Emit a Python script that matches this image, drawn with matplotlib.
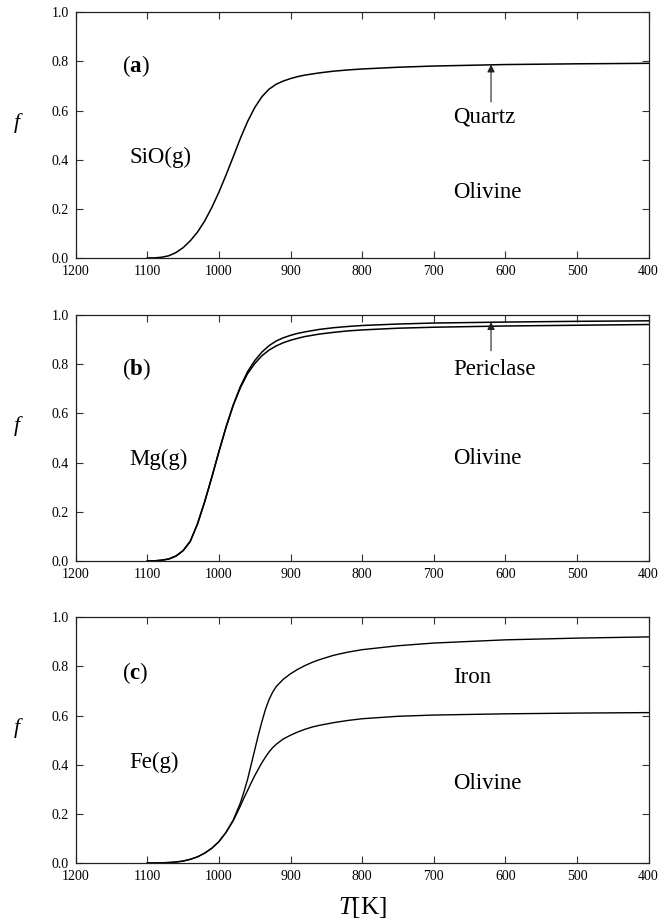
import matplotlib.pyplot as plt

# temperatures [K] and condensed fractions
t_sio = [1100, 1090, 1080, 1070, 1060, 1050, 1040, 1030, 1020, 1010, 1000, 990,
         980, 970, 960, 950, 940, 930, 920, 910, 900, 890, 880, 860, 840, 820,
         800, 750, 700, 650, 600, 500, 400]
f_sio = [0.0, 0.0005, 0.003, 0.009, 0.022, 0.042, 0.07, 0.105, 0.15, 0.205, 0.268,
         0.338, 0.412, 0.487, 0.555, 0.612, 0.656, 0.687, 0.707, 0.72, 0.73, 0.738,
         0.744, 0.753, 0.76, 0.765, 0.769, 0.776, 0.781, 0.784, 0.787, 0.79, 0.792]

t_mg = [1100, 1090, 1080, 1070, 1060, 1050, 1040, 1030, 1020, 1010, 1000, 990,
        980, 970, 960, 950, 940, 930, 920, 910, 900, 890, 880, 860, 840, 820,
        800, 750, 700, 600, 500, 400]
f_mg_total = [0.0, 0.0005, 0.003, 0.008, 0.02, 0.042, 0.08, 0.15, 0.24, 0.34, 0.445,
              0.545, 0.635, 0.71, 0.77, 0.815, 0.85, 0.876, 0.895, 0.908, 0.918,
              0.926, 0.932, 0.942, 0.949, 0.954, 0.958, 0.964, 0.968, 0.972, 0.975,
              0.977]
f_mg_olivine = [0.0, 0.0005, 0.003, 0.008, 0.02, 0.042, 0.08, 0.15, 0.24, 0.34,
                0.445, 0.545, 0.633, 0.705, 0.762, 0.803, 0.835, 0.858, 0.875, 0.888,
                0.898, 0.906, 0.913, 0.923, 0.93, 0.936, 0.94, 0.947, 0.951, 0.956,
                0.959, 0.962]

t_fe = [1100, 1090, 1080, 1070, 1060, 1050, 1040, 1030, 1020, 1010, 1000, 990,
        980, 970, 965, 960, 955, 950, 945, 940, 935, 930, 925, 920, 910, 900, 890,
        880, 870, 860, 840, 820, 800, 750, 700, 600, 500, 400]
f_fe_total = [0.0, 0.0003, 0.001, 0.002, 0.004, 0.008, 0.015, 0.025, 0.04, 0.06,
              0.087, 0.125, 0.175, 0.245, 0.29, 0.34, 0.40, 0.46, 0.52, 0.575, 0.625,
              0.665, 0.695, 0.718, 0.748, 0.77, 0.788, 0.803, 0.816, 0.827, 0.845,
              0.858, 0.868, 0.884, 0.895, 0.908, 0.915, 0.92]
f_fe_olivine = [0.0, 0.0003, 0.001, 0.002, 0.004, 0.008, 0.015, 0.025, 0.04, 0.06,
                0.087, 0.125, 0.172, 0.232, 0.265, 0.295, 0.326, 0.355, 0.382, 0.408,
                0.431, 0.452, 0.469, 0.483, 0.505, 0.52, 0.533, 0.544, 0.553, 0.56,
                0.571, 0.58, 0.587, 0.597, 0.602, 0.607, 0.61, 0.612]

x_ticks = [1200, 1100, 1000, 900, 800, 700, 600, 500, 400]
y_ticks = [0.0, 0.2, 0.4, 0.6, 0.8, 1.0]

plt.rcParams['font.family'] = 'Liberation Serif'
plt.rcParams['mathtext.fontset'] = 'custom'
plt.rcParams['mathtext.rm'] = 'Liberation Serif'
plt.rcParams['mathtext.it'] = 'Liberation Serif:italic'
plt.rcParams['mathtext.bf'] = 'Liberation Serif:bold'

fig = plt.figure(figsize=(6.7, 9.24), dpi=100)
# panel boxes (left, bottom, width, height) in figure fractions
ax_a = fig.add_axes([0.113, 0.7208, 0.855, 0.266])
ax_b = fig.add_axes([0.113, 0.3929, 0.855, 0.266])
ax_c = fig.add_axes([0.113, 0.066, 0.855, 0.266])

label_size = 16.5

for ax in (ax_a, ax_b, ax_c):
    ax.set_xlim(1200, 400)
    ax.set_ylim(0, 1)
    ax.set_xticks(x_ticks)
    ax.set_yticks(y_ticks)
    ax.set_yticklabels([f"{v:.1f}" for v in y_ticks])
    ax.tick_params(direction='in', top=True, right=True, length=5, width=0.8,
                   labelsize=10, color='#333333', pad=5)
    for s in ax.spines.values():
        s.set_linewidth(0.9)
        s.set_color('#222222')
    ax.set_ylabel(r'$f$', fontsize=16, rotation=0)
    ax.yaxis.set_label_coords(-0.1, 0.5)

# (a) SiO
ax_a.plot(t_sio, f_sio, color='black', lw=1.1)
ax_a.text(1136, 0.78, r'($\mathbf{a}$)', fontsize=label_size, va='center')
ax_a.text(1125, 0.41, 'SiO(g)', fontsize=label_size, va='center')
ax_a.text(673, 0.575, 'Quartz', fontsize=label_size, va='center')
ax_a.text(673, 0.265, 'Olivine', fontsize=label_size, va='center')
ax_a.annotate('', xy=(620, 0.787), xytext=(620, 0.635),
              arrowprops=dict(arrowstyle='-|>', color='#222222', lw=0.8,
                              mutation_scale=11, shrinkA=0, shrinkB=0))

# (b) Mg
ax_b.plot(t_mg, f_mg_total, color='black', lw=1.1)
ax_b.plot(t_mg, f_mg_olivine, color='black', lw=1.1)
ax_b.text(1136, 0.78, r'($\mathbf{b}$)', fontsize=label_size, va='center')
ax_b.text(1125, 0.415, 'Mg(g)', fontsize=label_size, va='center')
ax_b.text(673, 0.78, 'Periclase', fontsize=label_size, va='center')
ax_b.text(673, 0.415, 'Olivine', fontsize=label_size, va='center')
ax_b.annotate('', xy=(620, 0.972), xytext=(620, 0.855),
              arrowprops=dict(arrowstyle='-|>', color='#222222', lw=0.8,
                              mutation_scale=11, shrinkA=0, shrinkB=0))

# (c) Fe
ax_c.plot(t_fe, f_fe_total, color='black', lw=1.0)
ax_c.plot(t_fe, f_fe_olivine, color='black', lw=1.0)
ax_c.text(1136, 0.775, r'($\mathbf{c}$)', fontsize=label_size, va='center')
ax_c.text(1125, 0.41, 'Fe(g)', fontsize=label_size, va='center')
ax_c.text(673, 0.755, 'Iron', fontsize=label_size, va='center')
ax_c.text(673, 0.325, 'Olivine', fontsize=label_size, va='center')
ax_c.set_xlabel(r'$T$[K]', fontsize=18, labelpad=9)

fig.savefig('out.png', dpi=100)
